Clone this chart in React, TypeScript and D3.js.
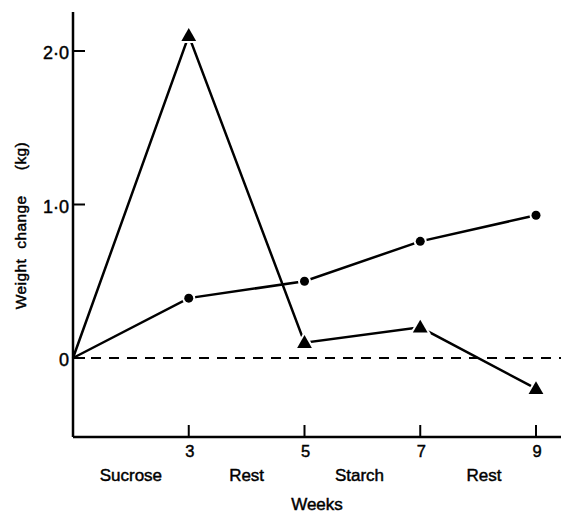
import React, { useRef, useEffect } from 'react';
import * as d3 from 'd3';

const weeks = [1, 3, 5, 7, 9];
const circleSeries = [0, 0.39, 0.5, 0.76, 0.93];
const triangleSeries = [0, 2.1, 0.1, 0.2, -0.2];
const yTicks = [0, 1, 2];
const yTickLabels = ['0', '1·0', '2·0'];
const xTicks = [3, 5, 7, 9];
const periods = [
    { label: 'Sucrose', at: 2 },
    { label: 'Rest', at: 4 },
    { label: 'Starch', at: 5.95 },
    { label: 'Rest', at: 8.1 },
];
const titleWords = [
    { word: 'Weight', at: 284 },
    { word: 'change', at: 222 },
    { word: '(kg)', at: 156 },
];

function App() {
    const ref = useRef<SVGSVGElement>(null);
    useEffect(() => {
        const svg = d3.select(ref.current);
        svg.selectAll('*').remove();
        const font = 'Liberation Sans, Arial, sans-serif';

        const x = d3.scaleLinear().domain([1, 9]).range([73, 536]);
        const y = d3.scaleLinear().domain([0, 2]).range([358, 51]);
        const left = 73, right = 561, top = 12, bottom = 437;

        const txt = (sel: any, size: number) =>
            sel.attr('font-family', font).attr('font-size', size).attr('fill', '#000')
                .attr('stroke', '#000').attr('stroke-width', 0.45);

        // axes frame
        svg.append('line').attr('x1', left).attr('x2', left).attr('y1', top).attr('y2', bottom)
            .attr('stroke', '#000').attr('stroke-width', 2.5);
        svg.append('line').attr('x1', left).attr('x2', right).attr('y1', bottom).attr('y2', bottom)
            .attr('stroke', '#000').attr('stroke-width', 2.5);

        // y ticks
        yTicks.forEach((t, i) => {
            svg.append('line').attr('x1', left).attr('x2', left + 12).attr('y1', y(t)).attr('y2', y(t))
                .attr('stroke', '#000').attr('stroke-width', 2);
            txt(svg.append('text').attr('x', left - 4).attr('y', y(t) + 8)
                .attr('text-anchor', 'end'), 18)
                .text(yTickLabels[i]);
        });

        // x ticks
        xTicks.forEach(t => {
            svg.append('line').attr('x1', x(t)).attr('x2', x(t)).attr('y1', bottom).attr('y2', bottom - 12)
                .attr('stroke', '#000').attr('stroke-width', 2);
            txt(svg.append('text').attr('x', x(t) + 1).attr('y', 457)
                .attr('text-anchor', 'middle'), 16.5)
                .text(t);
        });

        periods.forEach(p => {
            txt(svg.append('text').attr('x', x(p.at)).attr('y', 481)
                .attr('text-anchor', 'middle'), 17)
                .text(p.label);
        });

        txt(svg.append('text').attr('x', 317).attr('y', 510)
            .attr('text-anchor', 'middle'), 17)
            .text('Weeks');

        titleWords.forEach(w => {
            txt(svg.append('text')
                .attr('transform', `translate(26,${w.at}) rotate(-90)`)
                .attr('text-anchor', 'middle').attr('letter-spacing', 0.4), 15.5)
                .text(w.word);
        });

        // zero dashed line
        svg.append('line').attr('x1', left).attr('x2', right).attr('y1', y(0)).attr('y2', y(0))
            .attr('stroke', '#000').attr('stroke-width', 2).attr('stroke-dasharray', '10,8');

        const line = d3.line<number>().x((d, i) => x(weeks[i])).y(d => y(d));

        svg.append('path').datum(circleSeries).attr('d', line)
            .attr('fill', 'none').attr('stroke', '#000').attr('stroke-width', 2.5);
        svg.append('path').datum(triangleSeries).attr('d', line)
            .attr('fill', 'none').attr('stroke', '#000').attr('stroke-width', 2.5);

        svg.selectAll('.dot').data(circleSeries.slice(1)).enter().append('circle')
            .attr('cx', (d, i) => x(weeks[i + 1])).attr('cy', d => y(d)).attr('r', 4.5)
            .attr('fill', '#000').attr('stroke', '#fff').attr('stroke-width', 4)
            .attr('paint-order', 'stroke');

        const tri = d3.symbol().type(d3.symbolTriangle).size(95);
        svg.selectAll('.tri').data(triangleSeries.slice(1)).enter().append('path')
            .attr('d', tri)
            .attr('transform', (d, i) => `translate(${x(weeks[i + 1])},${y(d) + 1})`)
            .attr('fill', '#000').attr('stroke', '#fff').attr('stroke-width', 4)
            .attr('paint-order', 'stroke');
    }, []);
    return (
        <svg ref={ref} width="561" height="513" style={{ position: 'absolute', left: 0, top: 0 }}></svg>
    );
}

export default App;
